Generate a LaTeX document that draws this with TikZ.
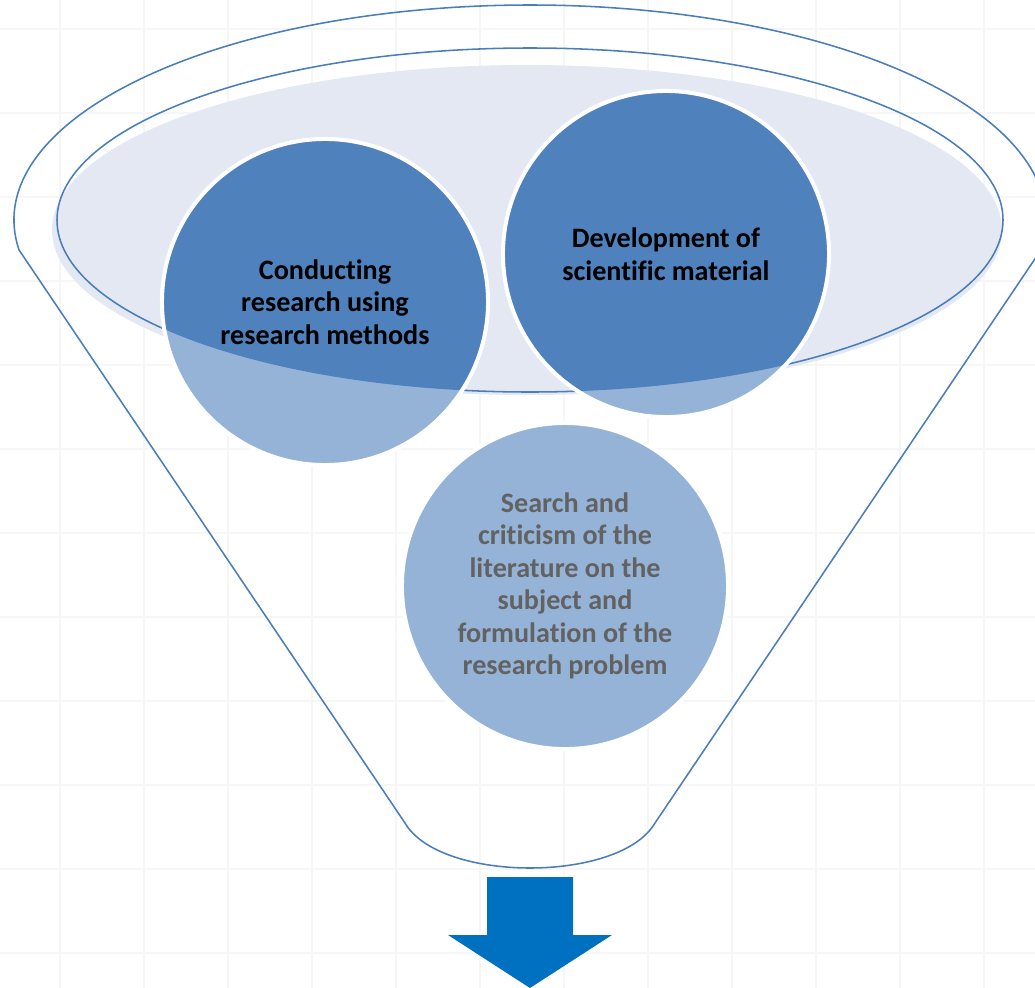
\documentclass[tikz,border=0pt]{standalone}
\usepackage{fontspec}
\setmainfont{Carlito}[Ligatures=NoCommon]
\definecolor{rimblue}{RGB}{74,126,187}
\definecolor{darkbubble}{RGB}{79,129,189}
\definecolor{lightbubble}{RGB}{149,179,215}
\definecolor{mouthfill}{RGB}{227,232,242}
\definecolor{arrowblue}{RGB}{0,112,192}
\definecolor{gridgray}{RGB}{246,246,246}
\definecolor{textgray}{RGB}{98,98,98}

\begin{document}
\begin{tikzpicture}[x=0.025cm, y=-0.025cm,
    rim/.style={rimblue, line width=1.1pt},
    bubble/.style={circle, fill=lightbubble, draw=white, line width=0.1cm, inner sep=0pt,
      minimum size=8.15cm, align=center, font=\bfseries\fontsize{20}{23.1}\selectfont,
      path picture={\fill[darkbubble] (mouth) ellipse [x radius=473, y radius=172];}}]
      \clip (0,0) rectangle (1035,988);

      \foreach \gx in {60,144,...,1035} \draw[gridgray, line width=1pt] (\gx,0) -- (\gx,988);
      \foreach \gy in {29,113,...,988} \draw[gridgray, line width=1pt] (0,\gy) -- (1035,\gy);

      \coordinate (mouth) at (530,220);

      % funnel body
      \draw[rim] ([shift={(172:516 and 215)}]530,220) arc[start angle=172, end angle=368, x radius=516, y radius=215]
        -- (655,823) .. controls (620,883) and (440,883) .. (405,823) -- cycle;

      \fill[mouthfill] (527,230) ellipse [x radius=475, y radius=165];
      \draw[rim] (mouth) ellipse [x radius=473, y radius=172];

      \node[bubble] (conduct) at (325,302) {Conducting\\research using\\research methods};
      \node[bubble] (develop) at (666,254) {Development of\\scientific material};
      \node[bubble, text=textgray] (search) at (565,586) {Search and\\criticism of the\\literature on the\\subject and\\formulation of the\\research problem};

      \fill[arrowblue] (487,877) -- (573,877) -- (573,935) -- (612,935) -- (530,988) -- (448,935) -- (487,935) -- cycle;

    \end{tikzpicture}
\end{document}
